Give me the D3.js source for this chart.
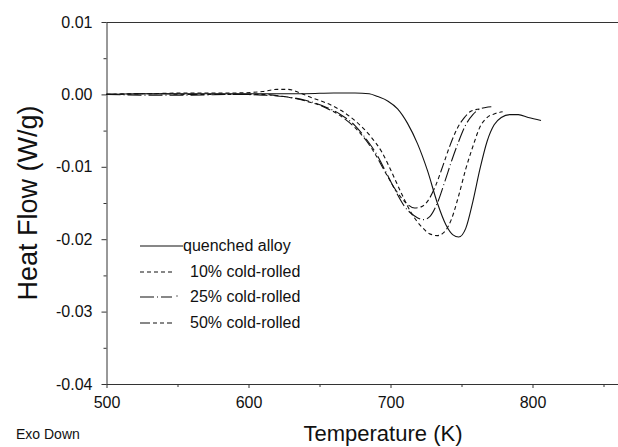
<!DOCTYPE html>
<html><head><meta charset="utf-8">
<script src="https://cdn.jsdelivr.net/npm/d3@7"></script>
<style>body{margin:0;background:#fff}svg{display:block}text{font-family:"Liberation Sans",Arial,sans-serif;fill:#111}</style>
</head><body><svg id="c" width="618" height="447"></svg>
<script>
const xTicks = [500, 600, 700, 800];
const yTicks = [0.01, 0.00, -0.01, -0.02, -0.03, -0.04];
const seriesNames = ["quenched alloy", "10% cold-rolled", "25% cold-rolled", "50% cold-rolled"];
const quenched = [[500,0],[520,0.0001],[550,0.0001],[580,0.0001],[600,0.0001],[620,0.0001],[640,0.0001],[660,0.0002],[675,0.0002],[685,0.0001],[691,-0.0003],[698,-0.0009],[705,-0.0020],[712,-0.0040],[719,-0.0068],[726,-0.0105],[733,-0.0150],[739,-0.0180],[744,-0.0194],[748,-0.0197],[753,-0.0185],[758,-0.0148],[763,-0.0103],[768,-0.0065],[773,-0.0042],[778,-0.0032],[784,-0.0028],[790,-0.0028],[797,-0.0032],[806,-0.0036]];
const cr10 = [[500,0],[530,0.0001],[560,0.0002],[590,0.0002],[610,0.0004],[620,0.0007],[628,0.0007],[635,0.0003],[645,-0.0005],[655,-0.0012],[665,-0.0022],[676,-0.0038],[686,-0.0058],[694,-0.0080],[701,-0.0108],[708,-0.0138],[715,-0.0165],[722,-0.0183],[728,-0.0193],[733,-0.0195],[738,-0.0190],[743,-0.0172],[748,-0.0140],[753,-0.0103],[758,-0.0072],[763,-0.0045],[768,-0.0032],[773,-0.0027],[779,-0.0024]];
const cr25 = [[500,0],[530,-0.0001],[560,-0.0001],[590,0],[610,-0.0001],[625,-0.0003],[640,-0.0008],[655,-0.0018],[665,-0.0028],[675,-0.0043],[683,-0.0062],[690,-0.0082],[697,-0.0108],[704,-0.0135],[710,-0.0155],[717,-0.0168],[723,-0.0173],[728,-0.0168],[733,-0.0150],[738,-0.0122],[743,-0.0092],[748,-0.0065],[753,-0.0042],[758,-0.0028],[762,-0.0021],[767,-0.0018],[771,-0.0017]];
const cr50 = [[500,0],[530,0.0001],[560,0],[590,0],[610,0],[625,-0.0003],[640,-0.0009],[655,-0.0019],[665,-0.0030],[675,-0.0046],[683,-0.0064],[690,-0.0085],[697,-0.0110],[704,-0.0133],[711,-0.0150],[717,-0.0157],[722,-0.0155],[727,-0.0145],[732,-0.0125],[737,-0.0098],[742,-0.0070],[747,-0.0047],[752,-0.0032],[756,-0.0024],[760,-0.0021],[764,-0.0020]];
const seriesData = [quenched, cr10, cr25, cr50];
const dashes = [null, "4,3", "14,3,1,3", "10,3,4,3,4,3"];

const svg = d3.select("#c");
const x = d3.scaleLinear().domain([500, 860]).range([106.5, 617.7]);
const y = d3.scaleLinear().domain([-0.04, 0.01]).range([384, 22]);

svg.append("line").attr("x1",106.5).attr("x2",618).attr("y1",22.5).attr("y2",22.5).attr("stroke","#333");
const xAxis = d3.axisBottom(x).tickValues(xTicks).tickFormat(d3.format("d")).tickSize(4).tickSizeOuter(0);
const gx = svg.append("g").attr("transform","translate(0,384)").call(xAxis);
gx.select(".domain").attr("d","M106.5,0.5H618").attr("stroke","#333");
gx.selectAll("text").attr("font-size",16).attr("dy","1.05em");
svg.append("g").attr("transform","translate(0,384)").call(d3.axisBottom(x).tickValues([550,650,750,850]).tickFormat("").tickSize(3).tickSizeOuter(0)).select(".domain").remove();

const fmtY = d => d3.format(".2f")(d).replace("\u2212","-");
const yAxis = d3.axisLeft(y).tickValues(yTicks).tickFormat(fmtY).tickSize(5).tickSizeOuter(0);
const gy = svg.append("g").attr("transform","translate(106.5,0)").call(yAxis);
gy.select(".domain").attr("stroke","#333");
gy.selectAll("text").attr("font-size",16).attr("x",-14);
svg.append("g").attr("transform","translate(106.5,0)").call(d3.axisLeft(y).tickValues([0.005,-0.005,-0.015,-0.025,-0.035]).tickFormat("").tickSize(3).tickSizeOuter(0)).select(".domain").remove();
svg.selectAll(".tick line").attr("stroke","#333");

const line = d3.line().x(d=>x(d[0])).y(d=>y(d[1])).curve(d3.curveMonotoneX);
seriesData.forEach((s,i)=>{
  svg.append("path").datum(s).attr("d",line).attr("fill","none").attr("stroke","#111").attr("stroke-width",1.1)
    .attr("stroke-dasharray",dashes[i]);
});

const legY = [246, 272, 297, 323];
seriesNames.forEach((n,i)=>{
  const x2 = i===0 ? 183 : 172;
  svg.append("line").attr("x1",140).attr("x2",x2).attr("y1",legY[i]).attr("y2",legY[i]).attr("stroke","#111").attr("stroke-width",1.1).attr("stroke-dasharray",dashes[i]);
  if(i===2) svg.append("circle").attr("cx",177).attr("cy",legY[i]-1).attr("r",0.7).attr("fill","#333");
  svg.append("text").attr("x", i===0 ? 183 : 190).attr("y",legY[i]+5).attr("font-size",16).text(n);
});

svg.append("text").attr("transform","translate(37,203) rotate(-90)").attr("text-anchor","middle").attr("font-size",27).text("Heat Flow (W/g)");
svg.append("text").attr("x",383).attr("y",441).attr("text-anchor","middle").attr("font-size",22).text("Temperature (K)");
svg.append("text").attr("x",16).attr("y",439).attr("font-size",14).text("Exo Down");
</script></body></html>
